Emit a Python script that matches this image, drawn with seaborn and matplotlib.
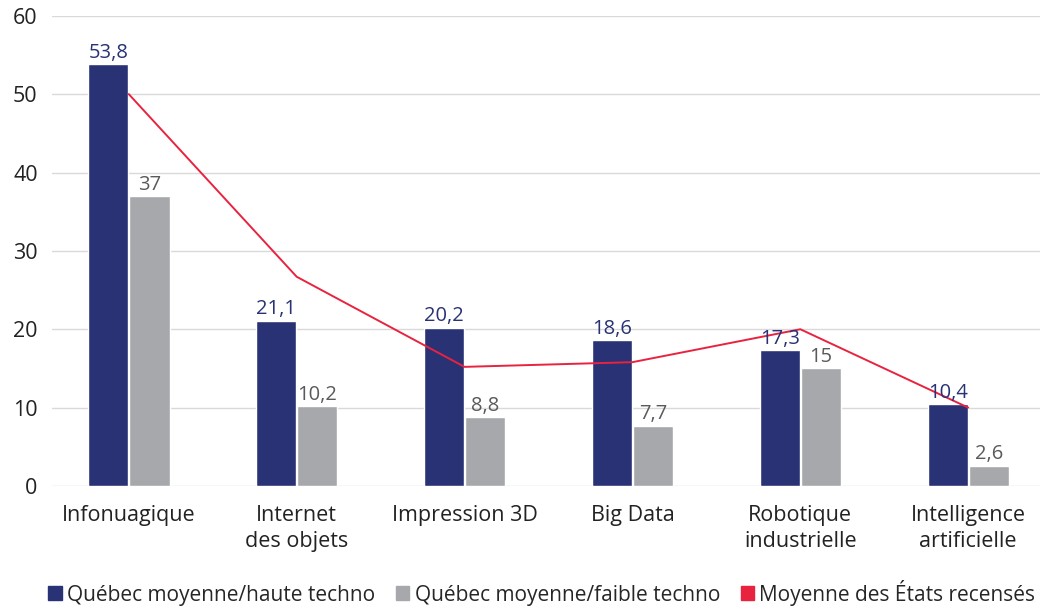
import numpy as np
import pandas as pd
import matplotlib
matplotlib.use("Agg")
import matplotlib.pyplot as plt
from matplotlib.patches import Patch
import seaborn as sns

categories = ["Infonuagique", "Internet\ndes objets", "Impression 3D", "Big Data",
              "Robotique\nindustrielle", "Intelligence\nartificielle"]
haute_techno = [53.8, 21.1, 20.2, 18.6, 17.3, 10.4]
faible_techno = [37, 10.2, 8.8, 7.7, 15, 2.6]
moyenne_etats = [50, 26.7, 15.2, 15.8, 20, 10]

series_names = ["Québec moyenne/haute techno", "Québec moyenne/faible techno",
                "Moyenne des États recensés"]
colors = ["#283275", "#a7a8ac", "#e8233f"]
label_colors = ["#283275", "#5a5a5c"]

sns.set_style("white")
plt.rcParams["font.family"] = ["Open Sans", "DejaVu Sans"]

df = pd.DataFrame({
    "cat": categories * 2,
    "val": haute_techno + faible_techno,
    "serie": [series_names[0]] * 6 + [series_names[1]] * 6,
})

fig = plt.figure(figsize=(10.52, 6.11), dpi=100)
ax = fig.add_axes([0.049, 0.2046, 0.94, 0.7696])

sns.barplot(data=df, x="cat", y="val", hue="serie", palette=colors[:2],
            width=0.49, gap=0.02, ax=ax, legend=False, saturation=1)

sns.lineplot(x=np.arange(len(categories)), y=moyenne_etats, color=colors[2],
             linewidth=1.4, ax=ax)

# value labels on bars
for cont, col in zip(ax.containers, label_colors):
    labels = [f"{v:g}".replace(".", ",") for v in cont.datavalues]
    ax.bar_label(cont, labels=labels, color=col, fontsize=14.5, padding=1)

ax.set_ylim(0, 60)
ax.set_xlim(-0.46, 5.43)
ax.set_yticks(np.arange(0, 61, 10))
ax.yaxis.grid(True, color="#d9d9d9", linewidth=1)
ax.set_axisbelow(True)
for s in ax.spines.values():
    s.set_visible(False)
ax.set_xlabel("")
ax.set_ylabel("")
ax.tick_params(axis="y", length=0, labelsize=15.5, pad=10, labelcolor="#222222")
ax.tick_params(axis="x", length=0, labelsize=15.5, pad=14, labelcolor="#222222")
for t in ax.get_xticklabels():
    t.set_linespacing(1.3)

handles = [Patch(color=c) for c in colors]
fig.legend(handles, series_names, loc="lower center", ncol=3, frameon=False,
           fontsize=15, handlelength=0.65, handleheight=0.65, handletextpad=0.25,
           columnspacing=1.0, bbox_to_anchor=(0.515, -0.022))

fig.savefig("out.png", dpi=100)
